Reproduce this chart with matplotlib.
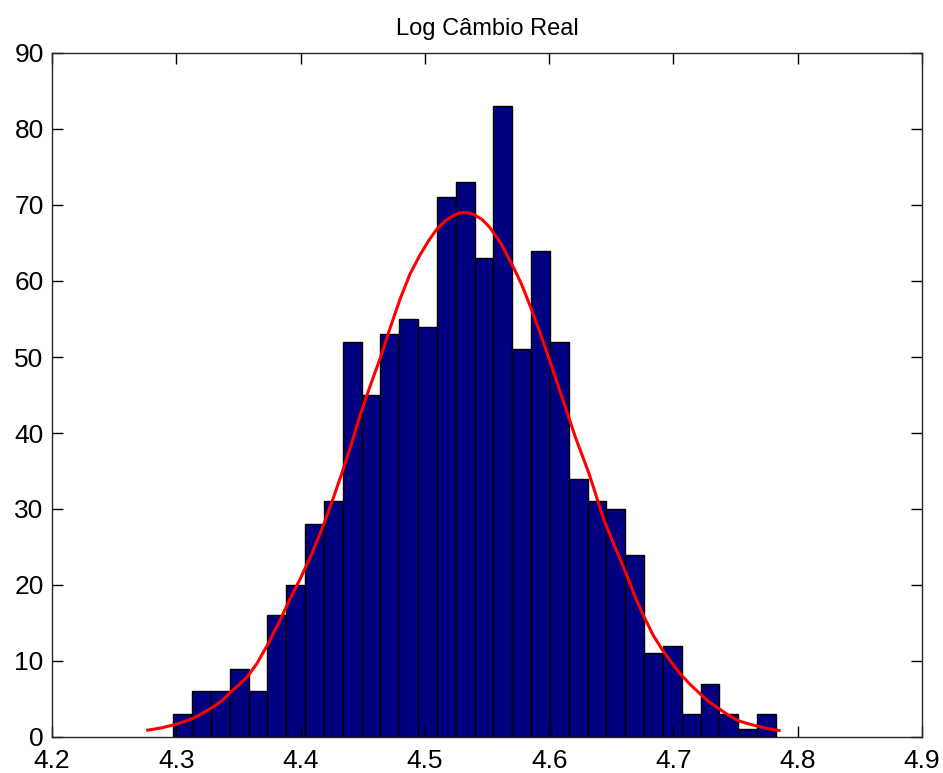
import numpy as np
import matplotlib
matplotlib.use('Agg')
import matplotlib.pyplot as plt

# histogram counts (32 bins)
counts = [3, 6, 6, 9, 6, 16, 20, 28, 31, 52, 45, 53, 55, 54, 71, 73,
          63, 83, 51, 64, 52, 34, 31, 30, 24, 11, 12, 3, 7, 3, 1, 3]
first_edge = 4.2976
bin_width = 0.01515

# fitted normal curve
curve_x = [4.277, 4.288, 4.298, 4.306, 4.314, 4.322, 4.330, 4.337, 4.343,
           4.350, 4.357, 4.365, 4.374, 4.383, 4.391, 4.400, 4.409, 4.418,
           4.426, 4.433, 4.441, 4.448, 4.456, 4.464, 4.472, 4.480, 4.488,
           4.496, 4.503, 4.510, 4.517, 4.524, 4.528, 4.532, 4.536, 4.540,
           4.546, 4.552, 4.561, 4.571, 4.578, 4.585, 4.594, 4.603, 4.612,
           4.621, 4.632, 4.644, 4.653, 4.662, 4.669, 4.677, 4.684, 4.691,
           4.698, 4.705, 4.713, 4.721, 4.728, 4.736, 4.744, 4.752, 4.760,
           4.767, 4.776, 4.785]
curve_y = [0.9, 1.2, 1.6, 2.0, 2.5, 3.2, 4.0, 4.8, 5.8,
           6.8, 7.9, 9.7, 12.3, 15.2, 18.0, 20.9, 24.1, 27.7,
           31.3, 34.6, 38.6, 42.4, 46.2, 49.8, 53.8, 57.6, 60.9,
           63.4, 65.3, 66.9, 68.0, 68.7, 68.95, 69.0, 68.95, 68.7,
           68.1, 67.1, 65.0, 61.9, 59.5, 56.6, 52.6, 48.3, 43.9,
           39.5, 34.7, 28.6, 25.0, 21.5, 18.5, 15.6, 13.3, 11.5,
           9.9, 8.4, 7.0, 5.75, 4.7, 3.8, 2.9, 2.15, 1.75,
           1.45, 1.1, 0.85]

plt.rcParams['font.family'] = ['Liberation Sans', 'DejaVu Sans']

fig = plt.figure(figsize=(9.43, 7.73), dpi=100)
ax = fig.add_axes([52/943, 1 - 737/773, 870/943, 684/773])

edges = first_edge + bin_width * np.arange(len(counts))
ax.bar(edges, counts, width=bin_width, align='edge', color='#000080',
       edgecolor='black', linewidth=1.0)
ax.plot(curve_x, curve_y, color='red', linewidth=2.2)

ax.set_xlim(4.2, 4.9)
ax.set_ylim(0, 90)
ax.set_xticks(np.arange(4.2, 4.91, 0.1))
ax.set_xticklabels(['4.2', '4.3', '4.4', '4.5', '4.6', '4.7', '4.8', '4.9'])
ax.set_yticks(range(0, 91, 10))
ax.tick_params(direction='in', length=8, width=1, top=True, right=True,
               labelsize=19, pad=6)
ax.tick_params(axis='x', pad=9)
for s in ax.spines.values():
    s.set_linewidth(1.0)
    s.set_color('#262626')

ax.set_title('Log Câmbio Real', fontsize=17, pad=13)

fig.savefig('out.png', dpi=100)
